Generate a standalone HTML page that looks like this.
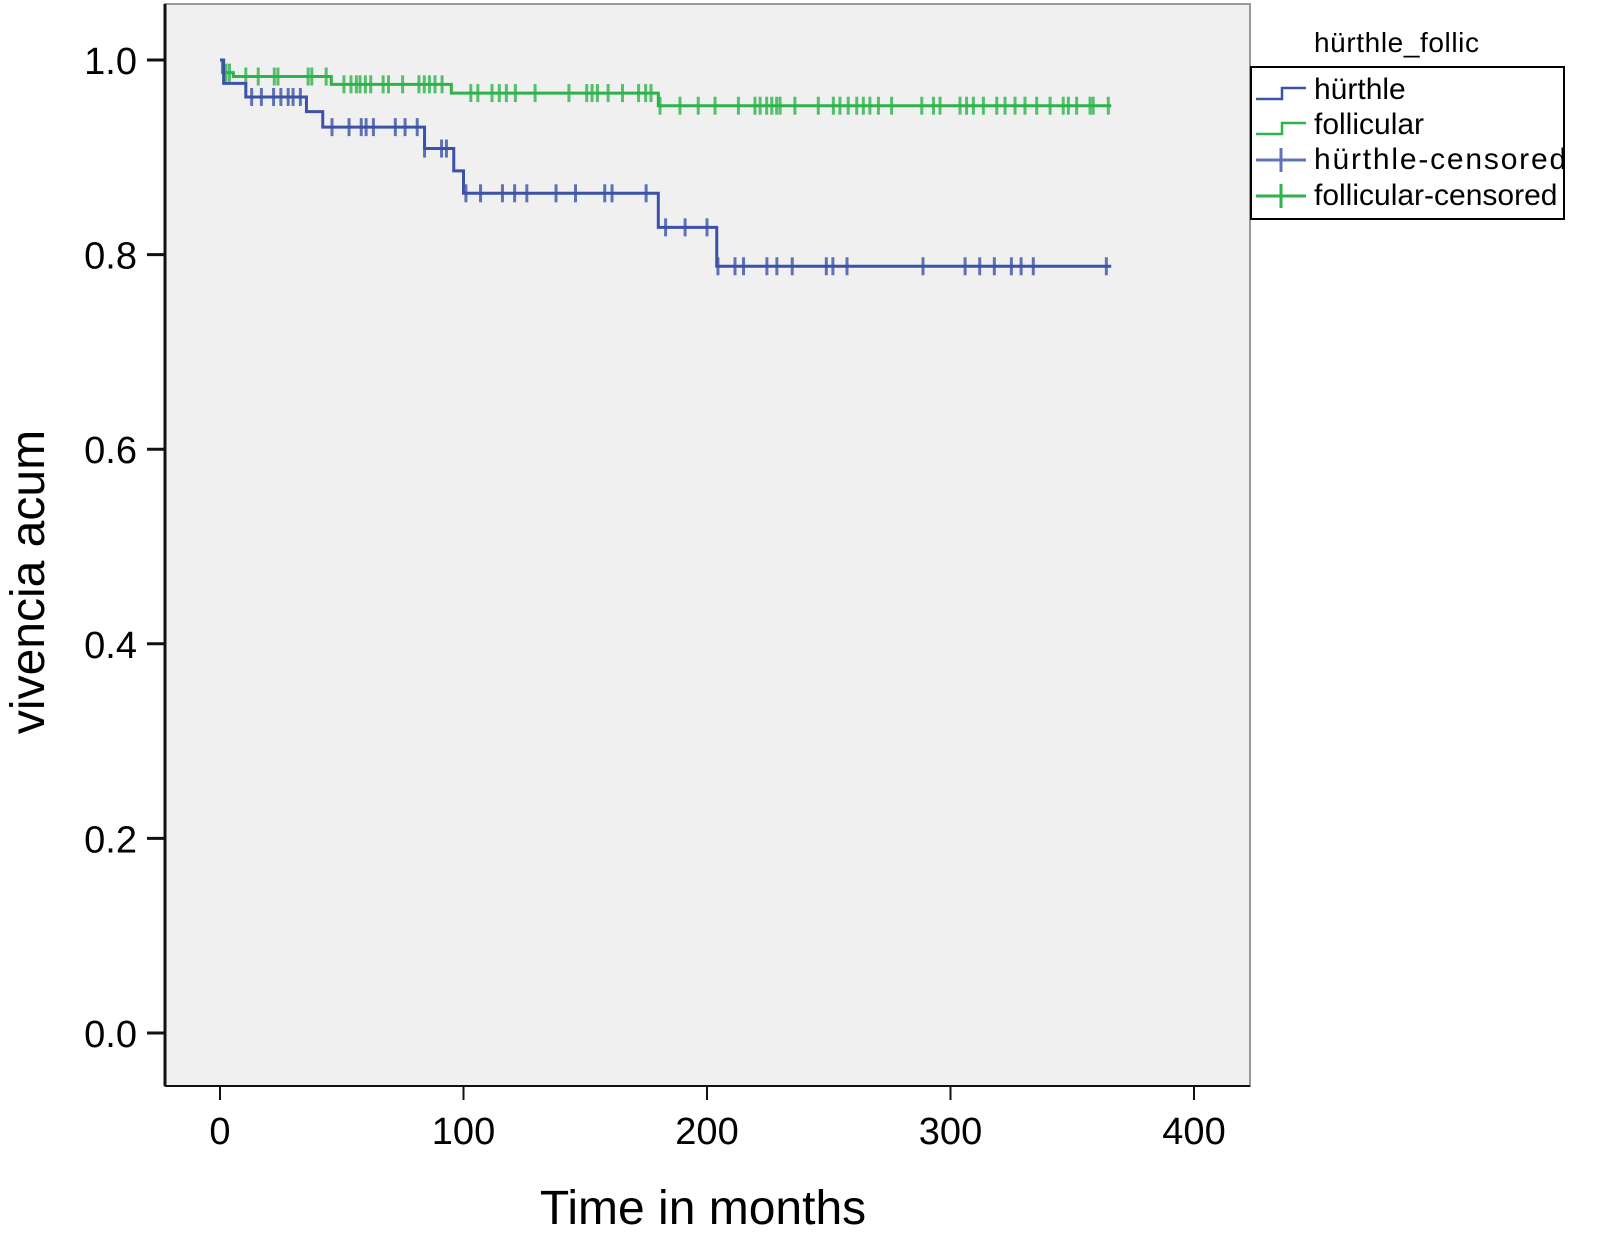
<!DOCTYPE html>
<html><head><meta charset="utf-8"><style>
body{margin:0;background:#fff;}
svg{display:block;font-family:"Liberation Sans",sans-serif;}
</style></head><body>
<svg id="chart" width="1597" height="1236">
<rect x="165" y="4" width="1085" height="1082" fill="#f0f0f0" stroke="#999" stroke-width="2"/>
<line x1="165" y1="4" x2="165" y2="1086" stroke="#111" stroke-width="3"/>
<line x1="165" y1="1086" x2="1250" y2="1086" stroke="#111" stroke-width="2"/>
<g id="axes"></g>
<g id="series"></g>
<text x="703" y="1224" font-size="48" text-anchor="middle">Time in months</text>
<text transform="translate(44,582) rotate(-90)" font-size="48" text-anchor="middle">vivencia acum</text>
<g>
<text x="1314" y="52" font-size="28" letter-spacing="0.6">hürthle_follic</text>
<rect x="1251" y="67" width="313" height="152" fill="#fff" stroke="#000" stroke-width="2"/>
<g><path d="M1256,99 H1282 V88 H1306" fill="none" stroke="#3b52a8" stroke-width="2.5"/><text x="1314" y="99" font-size="30">hürthle</text></g>
<g><path d="M1256,134 H1282 V123 H1306" fill="none" stroke="#2db34a" stroke-width="2.5"/><text x="1314" y="134" font-size="30">follicular</text></g>
<g><path d="M1256,160 H1306 M1281,148 V172" stroke="#3b52a8" stroke-width="3" opacity="0.8"/><text x="1314" y="169" font-size="30" letter-spacing="1.8">hürthle-censored</text></g>
<g><path d="M1256,196 H1306 M1281,184 V208" stroke="#2db34a" stroke-width="3"/><text x="1314" y="205" font-size="30">follicular-censored</text></g>
</g>
</svg>
<script>
const xTicks=[0,100,200,300,400];
const yTicks=[0.0,0.2,0.4,0.6,0.8,1.0];
const hurthleStepTimes=[0,1.5,10.6,35.5,42.2,84,96,100,180,204];
const hurthleStepValues=[1.0,0.976,0.962,0.947,0.931,0.909,0.886,0.863,0.828,0.788];
const hurthleEnd=366;
const hurthleCensored=[13,17,22,25,28,30,33,46,53,58,60,63,72,76,81,84,91,93,101,107,116,121,126,138,146,158,161,175,183,191,200,204.5,211.5,215,224.6,228.7,235,249,251.7,257.5,288.7,306,312,318,325,329,334,364];
const follicStepTimes=[0,1,5.5,45.7,95,180];
const follicStepValues=[1.0,0.987,0.983,0.975,0.966,0.953];
const follicEnd=366;
const follicCensored=[2.5,3.9,10.6,15.7,22.3,23.8,36.2,37.7,43.6,50.9,53.8,56,57.5,59.7,61.9,67,69.2,75,81.7,83.9,86,88.3,91.2,103,105.9,111.7,114.7,117.6,121.3,129.4,143.3,150.6,152.8,155,159.4,165.3,171.9,174.8,177,180.7,188.9,196.4,203.3,212.9,219.7,221.8,224.5,226.6,228.6,230,236.1,245.7,251.9,254.6,258,261.5,264.2,266.9,270.4,275.8,288.2,293,295.7,303.9,306.6,309.4,313.5,319,322.4,326.5,330.6,335.4,340.9,346.3,348.4,351.8,357.3,358.6,364.8];

const NS="http://www.w3.org/2000/svg";
const xs=t=>220+t*2.435;
const ys=v=>1033-v*973;
function mk(tag,attrs,parent){const e=document.createElementNS(NS,tag);for(const k in attrs)e.setAttribute(k,attrs[k]);parent.appendChild(e);return e;}
const axes=document.getElementById('axes');
xTicks.forEach(t=>{
  const l=mk('line',{x1:xs(t),x2:xs(t),y1:1086,y2:1100,stroke:'#111','stroke-width':2},axes);
  
  
  const tx=mk('text',{x:xs(t),y:1144,'font-size':38,'text-anchor':'middle'},axes);
  tx.textContent=String(t);
  
  
});
yTicks.forEach(v=>{
  const l=mk('line',{x1:147,x2:165,y1:ys(v),y2:ys(v),stroke:'#111','stroke-width':3},axes);
  
  
  const tx=mk('text',{x:137,y:ys(v)+14,'font-size':38,'text-anchor':'end'},axes);
  tx.textContent=v.toFixed(1);
  
  
});
const series=document.getElementById('series');
function stepAt(times,vals,t){let v=vals[0];for(let i=0;i<times.length;i++){if(times[i]<=t)v=vals[i];}return v;}
function draw(times,vals,end,cens,color,name){
  let d='M'+xs(times[0])+','+ys(vals[0]);
  for(let i=1;i<times.length;i++){d+=' H'+xs(times[i])+' V'+ys(vals[i]);}
  d+=' H'+xs(end);
  const p=mk('path',{d:d,fill:'none',stroke:color,'stroke-width':3},series);
  
  
  cens.forEach(t=>{
    const v=stepAt(times,vals,t);
    const m=mk('line',{x1:xs(t),x2:xs(t),y1:ys(v)-9,y2:ys(v)+9,stroke:color,'stroke-width':3,opacity:0.8},series);
    
    
  });
}
draw(follicStepTimes,follicStepValues,follicEnd,follicCensored,'#2db34a','follicular');
draw(hurthleStepTimes,hurthleStepValues,hurthleEnd,hurthleCensored,'#3b52a8','hurthle');
</script>
</body></html>
